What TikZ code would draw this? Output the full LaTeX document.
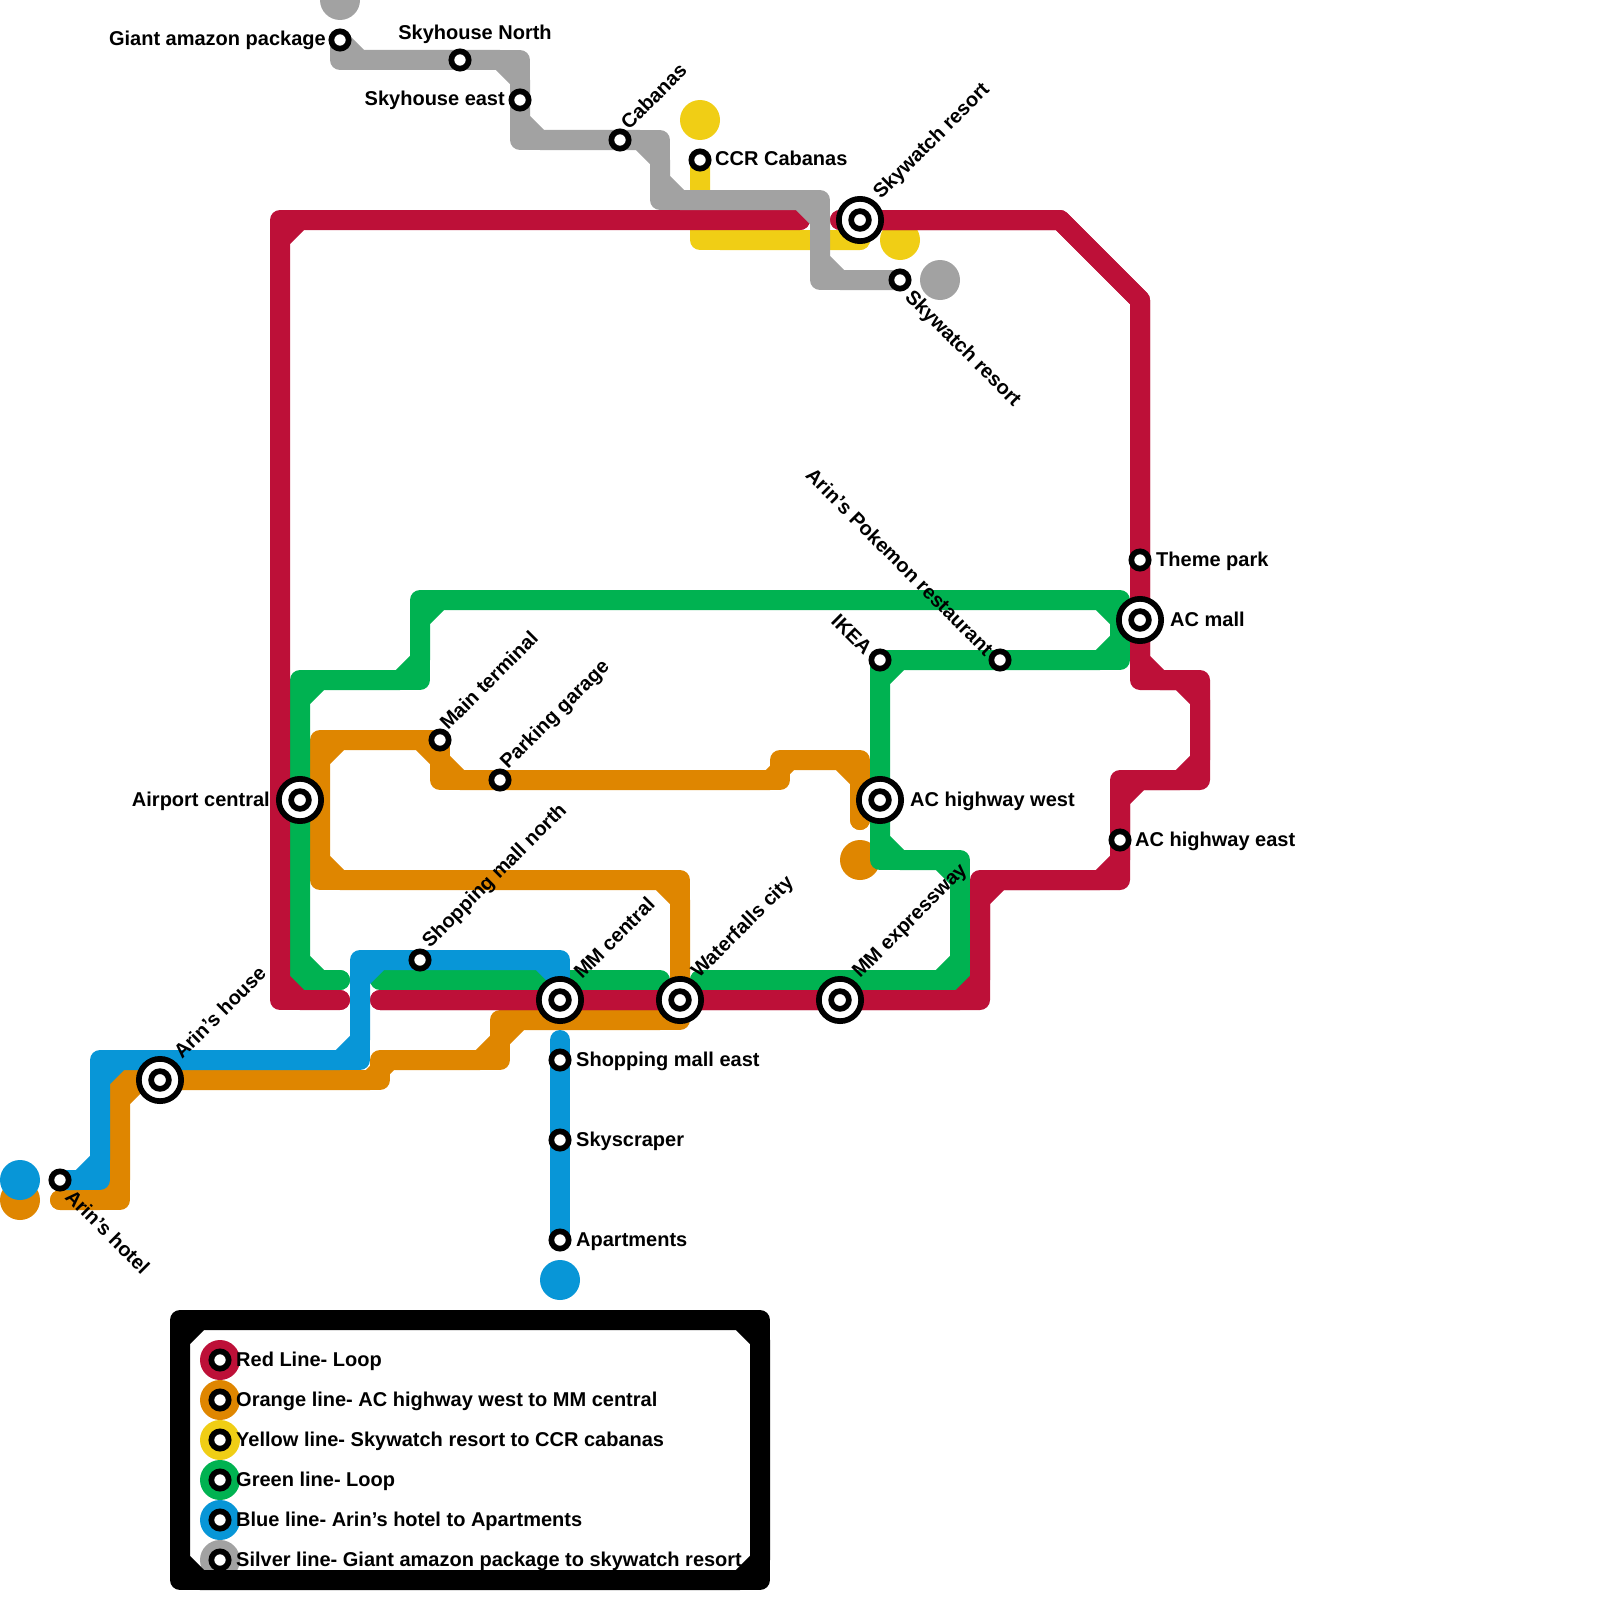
\documentclass[tikz,border=0pt]{standalone}
\usepackage{fontspec}
\setmainfont{Liberation Sans}
\definecolor{mred}{HTML}{BD1038}
\definecolor{morange}{HTML}{DF8600}
\definecolor{myellow}{HTML}{F0CE15}
\definecolor{mgreen}{HTML}{00B251}
\definecolor{mblue}{HTML}{0896D7}
\definecolor{mgray}{HTML}{A2A2A2}
\newcommand\ixst[2]{\node[ixo] (#1) at (#2) {}; \node[ixi] (#1-i) at (#2) {};}
\begin{document}
\begin{tikzpicture}[x=1pt,y=-1pt,
  ml/.style={line width=20pt, line cap=round, line join=round},
  st/.style={circle, draw=black, fill=white, line width=5.7pt, minimum size=17.3pt, inner sep=0pt},
  ixo/.style={circle, draw=black, fill=white, line width=5.7pt, minimum size=42.3pt, inner sep=0pt},
  ixi/.style={circle, draw=black, fill=white, line width=5.7pt, minimum size=17.7pt, inner sep=0pt},
  lbl/.style={font=\fontsize{20}{24}\selectfont\bfseries, inner sep=0pt},
  term/.style={circle, minimum size=40pt, inner sep=0pt}
]
\useasboundingbox (0,0) rectangle (1600,1600);
\clip (0,0) rectangle (1600,1600);

% terminus circles
\node[term, fill=mgray] (tg1) at (340,0) {};
\node[term, fill=mgray] (tg2) at (940,280) {};
\node[term, fill=myellow] (ty1) at (700,120) {};
\node[term, fill=myellow] (ty2) at (900,240) {};
\node[term, fill=morange] (to1) at (20,1200) {};
\node[term, fill=morange] (to2) at (860,860) {};
\node[term, fill=mblue] (tb1) at (20,1180) {};
\node[term, fill=mblue] (tb2) at (560,1280) {};

% yellow line
\draw[ml, myellow] (700,160)--(700,240)--(860,240);
\draw[ml, myellow] (700,160)--(700,220)--(720,240)--(860,240);

% orange line
\draw[ml, morange] (860,820)--(860,760)--(780,760)--(780,780)--(440,780)--(440,740)--(320,740)--(320,880)--(680,880)--(680,1020)--(500,1020)--(500,1060)--(380,1060)--(380,1080)--(120,1080)--(120,1200)--(60,1200);
\draw[ml, morange] (860,820)--(860,780)--(840,760)--(790,760)--(770,780)--(460,780)--(440,760)--(420,740)--(340,740)--(320,760)--(320,860)--(340,880)--(660,880)--(680,900)--(680,1000)--(660,1020)--(520,1020)--(500,1040)--(480,1060)--(390,1060)--(370,1080)--(140,1080)--(120,1100)--(120,1180)--(100,1200)--(60,1200);

% green line
\draw[ml, mgreen] (340,980)--(300,980)--(300,680)--(420,680)--(420,600)--(1120,600)--(1120,660)--(880,660)--(880,860)--(960,860)--(960,980)--(700,980);
\draw[ml, mgreen] (340,980)--(320,980)--(300,960)--(300,700)--(320,680)--(400,680)--(420,660)--(420,620)--(440,600)--(1100,600)--(1120,620)--(1120,640)--(1100,660)--(900,660)--(880,680)--(880,840)--(900,860)--(940,860)--(960,880)--(960,960)--(940,980)--(700,980);
\draw[ml, mgreen] (660,980)--(380,980);

% red line
\draw[ml, mred] (840,220)--(1060,220)--(1140,300)--(1140,680)--(1200,680)--(1200,780)--(1120,780)--(1120,880)--(980,880)--(980,1000)--(380,1000);
\draw[ml, mred] (840,220)--(1060,220)--(1140,300)--(1140,660)--(1160,680)--(1180,680)--(1200,700)--(1200,760)--(1180,780)--(1140,780)--(1120,800)--(1120,860)--(1100,880)--(1000,880)--(980,900)--(980,980)--(960,1000)--(380,1000);
\draw[ml, mred] (340,1000)--(280,1000)--(280,220)--(800,220);
\draw[ml, mred] (340,1000)--(300,1000)--(280,980)--(280,240)--(300,220)--(800,220);

% blue line
\draw[ml, mblue] (60,1180)--(100,1180)--(100,1060)--(360,1060)--(360,960)--(560,960)--(560,1000);
\draw[ml, mblue] (60,1180)--(80,1180)--(100,1160)--(100,1080)--(120,1060)--(340,1060)--(360,1040)--(360,980)--(380,960)--(540,960)--(560,980)--(560,1000);
\draw[ml, mblue] (560,1040)--(560,1240);

% silver line
\draw[ml, mgray] (340,40)--(340,60)--(520,60)--(520,140)--(660,140)--(660,200)--(820,200)--(820,280)--(900,280);
\draw[ml, mgray] (340,40)--(360,60)--(500,60)--(520,80)--(520,120)--(540,140)--(640,140)--(660,160)--(660,180)--(680,200)--(800,200)--(820,220)--(820,260)--(840,280)--(900,280);

% simple stations
\node[st] (gap) at (340,40) {};
\node[st] (shn) at (460,60) {};
\node[st] (she) at (520,100) {};
\node[st] (cab) at (620,140) {};
\node[st] (ccr) at (700,160) {};
\node[st] (swr2) at (900,280) {};
\node[st] (thp) at (1140,560) {};
\node[st] (ikea) at (880,660) {};
\node[st] (pok) at (1000,660) {};
\node[st] (ache) at (1120,840) {};
\node[st] (mter) at (440,740) {};
\node[st] (park) at (500,780) {};
\node[st] (smn) at (420,960) {};
\node[st] (sme) at (560,1060) {};
\node[st] (sky) at (560,1140) {};
\node[st] (apt) at (560,1240) {};
\node[st] (ahot) at (60,1180) {};

% interchange stations
\ixst{swr}{860,220}
\ixst{apc}{300,800}
\ixst{acm}{1140,620}
\ixst{achw}{880,800}
\ixst{mmc}{560,1000}
\ixst{wfc}{680,1000}
\ixst{mme}{840,1000}
\ixst{ahou}{160,1080}

% labels
\node[lbl, anchor=base east] (l-gap) at (326,46) {Giant amazon package};
\node[lbl, anchor=base] (l-shn) at (475,40) {Skyhouse North};
\node[lbl, anchor=base east] (l-she) at (505,106) {Skyhouse east};
\node[lbl, anchor=base west, rotate=45] (l-cab) at (629,131) {Cabanas};
\node[lbl, anchor=base west] (l-ccr) at (715,165) {CCR Cabanas};
\node[lbl, anchor=base west, rotate=45] (l-swr) at (881,200) {Skywatch resort};
\node[lbl, anchor=base west, rotate=-45] (l-swr2) at (904,298) {Skywatch resort};
\node[lbl, anchor=base west] (l-thp) at (1156,566) {Theme park};
\node[lbl, anchor=base west] (l-acm) at (1170,626) {AC mall};
\node[lbl, anchor=base east, rotate=-45] (l-ikea) at (864,656) {IKEA};
\node[lbl, anchor=base east, rotate=-45] (l-pok) at (985,657) {Arin’s Pokemon restaurant};
\node[lbl, anchor=base west] (l-achw) at (910,806) {AC highway west};
\node[lbl, anchor=base west] (l-ache) at (1135,846) {AC highway east};
\node[lbl, anchor=base east] (l-apc) at (270,806) {Airport central};
\node[lbl, anchor=base west, rotate=45] (l-mter) at (448,731) {Main terminal};
\node[lbl, anchor=base west, rotate=45] (l-park) at (508,770) {Parking garage};
\node[lbl, anchor=base west, rotate=45] (l-smn) at (430,949) {Shopping mall north};
\node[lbl, anchor=base west, rotate=45] (l-mmc) at (582,980) {MM central};
\node[lbl, anchor=base west, rotate=45] (l-wfc) at (699,979) {Waterfalls city};
\node[lbl, anchor=base west, rotate=45] (l-mme) at (860,979) {MM expressway};
\node[lbl, anchor=base west, rotate=45] (l-ahou) at (182,1060) {Arin’s house};
\node[lbl, anchor=base west, rotate=-45] (l-ahot) at (64,1198) {Arin’s hotel};
\node[lbl, anchor=base west] (l-sme) at (576,1066) {Shopping mall east};
\node[lbl, anchor=base west] (l-sky) at (576,1146) {Skyscraper};
\node[lbl, anchor=base west] (l-apt) at (576,1246) {Apartments};

% legend
\foreach \c/\t [count=\i from 0] in {mred/{Red Line- Loop},morange/{Orange line- AC highway west to MM central},myellow/{Yellow line- Skywatch resort to CCR cabanas},mgreen/{Green line- Loop},mblue/{Blue line- Arin’s hotel to Apartments},mgray/{Silver line- Giant amazon package to skywatch resort}}{
  \node[term, fill=\c] (lg\i) at (220,1360+40*\i) {};
  \node[st] (lgs\i) at (lg\i) {};
  \node[lbl, anchor=base west] (lgt\i) at (236,1366+40*\i) {\t};
}
\draw[ml, black] (470,1320)--(760,1320)--(760,1580)--(180,1580)--(180,1320)--cycle;
\draw[ml, black] (470,1320)--(740,1320)--(760,1340)--(760,1560)--(740,1580)--(200,1580)--(180,1560)--(180,1340)--(200,1320)--cycle;
\end{tikzpicture}
\end{document}
